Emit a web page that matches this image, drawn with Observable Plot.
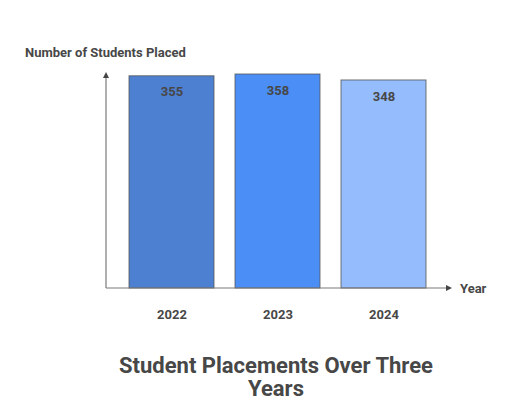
<!DOCTYPE html>
<html>
<head>
<meta charset="utf-8">
<script src="https://cdn.jsdelivr.net/npm/d3@7"></script>
<script src="https://cdn.jsdelivr.net/npm/@observablehq/plot@0.6"></script>
<style>
  body { margin: 0; background: #fff; font-family: Roboto, "Noto Sans", sans-serif; }
  #wrap { position: relative; width: 512px; height: 401px; }
  #title { margin-left: 103px; width: 346px; text-align: center; font-size: 22px; font-weight: bold; color: #474747; line-height: 23px; padding-top: 14px; }
</style>
</head>
<body>
<div id="wrap">
  <div id="chart"></div>
  <div id="title"></div>
</div>
<script>
const years = ["2022", "2023", "2024"];
const placed = [355, 358, 348];
const barColors = ["#4e80d2", "#4b8ef5", "#95bcfd"];
const yLabel = "Number of Students Placed";
const xLabel = "Year";
const titleText = "Student Placements Over Three Years";

const data = years.map((y, i) => ({year: y, value: placed[i], color: barColors[i]}));
const textColor = "#474747";

function axes(index, scales, values, dim) {
  const ns = "http://www.w3.org/2000/svg";
  const g = document.createElementNS(ns, "g");
  const x0 = dim.marginLeft - 11.35, y0 = dim.height - dim.marginBottom;
  const xEnd = dim.width - 60, yTop = dim.marginTop - 2;
  const mk = (tag, attrs) => { const e = document.createElementNS(ns, tag); for (const k in attrs) e.setAttribute(k, attrs[k]); g.appendChild(e); return e; };
  mk("line", {x1: x0, y1: y0, x2: xEnd - 5, y2: y0, stroke: "#7a7a7a", "stroke-width": 1.2});
  mk("path", {d: `M${xEnd},${y0} L${xEnd - 6},${y0 - 3} L${xEnd - 6},${y0 + 3} Z`, fill: "#444"});
  mk("line", {x1: x0, y1: y0, x2: x0, y2: yTop + 5, stroke: "#7a7a7a", "stroke-width": 1.2});
  mk("path", {d: `M${x0},${yTop} L${x0 - 3},${yTop + 6} L${x0 + 3},${yTop + 6} Z`, fill: "#444"});
  const t = mk("text", {x: xEnd + 8, y: y0, dy: "0.35em", fill: textColor, "font-size": 13, "font-weight": "bold", "text-anchor": "start"});
  t.textContent = xLabel;
  const t2 = mk("text", {x: 25, y: 52, dy: "0.35em", fill: textColor, "font-size": 13, "font-weight": "bold", "text-anchor": "start"});
  t2.textContent = yLabel;
  return g;
}

const chart = Plot.plot({
  width: 512,
  height: 340,
  marginLeft: 117.35,
  marginRight: 512 - 436.85,
  marginTop: 74,
  marginBottom: 52,
  style: {fontFamily: "Roboto, 'Noto Sans', sans-serif", color: textColor, background: "#fff"},
  x: {domain: years, paddingInner: 0.2, paddingOuter: 0.1, label: null},
  y: {domain: [0, 358], axis: null},
  marks: [
    Plot.barY(data, {x: "year", y: "value", fill: "color", stroke: "#555", strokeWidth: 1, strokeOpacity: 0.8}),
    Plot.text(data, {x: "year", y: "value", text: d => String(d.value), dy: 16, fill: textColor, fontSize: 13, fontWeight: "bold"}),
    Plot.axisX({tickSize: 0, tickPadding: 21, fontSize: 13, fontWeight: "bold", fill: textColor, label: null}),
    axes
  ]
});
document.getElementById("chart").appendChild(chart);
document.getElementById("title").textContent = titleText;
</script>
</body>
</html>
